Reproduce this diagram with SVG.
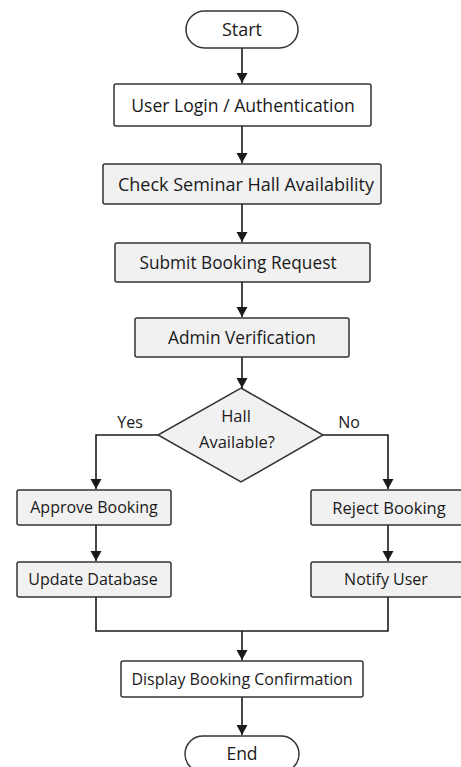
<svg xmlns="http://www.w3.org/2000/svg" width="461" height="767" viewBox="0 0 461 767">
<defs>
<marker id="ah" markerWidth="12" markerHeight="12" refX="10" refY="6" orient="auto" markerUnits="userSpaceOnUse">
<path d="M0,0.5 L10,6 L0,11.5 z" fill="#1a1a1a"/>
</marker>
<style>
.b{fill:#ffffff;stroke:#333;stroke-width:1.5}
.g{fill:#f1f1f1;stroke:#333;stroke-width:1.5}
.t{font-family:"Open Sans","Noto Sans",sans-serif;font-size:16px;fill:#1a1a1a;text-anchor:middle;dominant-baseline:central}
.c{fill:none;stroke:#1a1a1a;stroke-width:1.6;marker-end:url(#ah)}
.l{fill:none;stroke:#1a1a1a;stroke-width:1.6}
</style>
</defs>
<rect width="461" height="767" fill="#ffffff"/>
<g id="connectors">
<line class="c" x1="242" y1="47" x2="242" y2="83"/>
<line class="c" x1="242" y1="126" x2="242" y2="163"/>
<line class="c" x1="242" y1="204" x2="242" y2="242"/>
<line class="c" x1="242" y1="282" x2="242" y2="317"/>
<line class="c" x1="242" y1="357" x2="242" y2="388"/>
<polyline class="c" points="158,435 96,435 96,489"/>
<polyline class="c" points="323,435 388,435 388,489"/>
<line class="c" x1="96" y1="525" x2="96" y2="561"/>
<line class="c" x1="388" y1="525" x2="388" y2="561"/>
<polyline class="l" points="96,597 96,631 388,631 388,597"/>
<line class="c" x1="242" y1="631" x2="242" y2="660"/>
<line class="c" x1="242" y1="697" x2="242" y2="735"/>
<text class="t" x="130" y="422">Yes</text>
<text class="t" x="349" y="422">No</text>
</g>
<g id="start"><rect class="b" x="186" y="11" width="112" height="37" rx="18.5"/><text class="t" x="242" y="29" style="font-size:18px">Start</text></g>
<g id="login"><rect class="b" x="114" y="84" width="257" height="42" rx="2"/><text class="t" x="243" y="105" style="font-size:17.6px">User Login / Authentication</text></g>
<g id="check"><rect class="g" x="103" y="164" width="278" height="40" rx="2"/><text class="t" x="246" y="184" style="font-size:18px">Check Seminar Hall Availability</text></g>
<g id="submit"><rect class="g" x="115" y="243" width="255" height="39" rx="2"/><text class="t" x="238" y="262" style="font-size:17.3px">Submit Booking Request</text></g>
<g id="admin"><rect class="g" x="135" y="318" width="214" height="39" rx="2"/><text class="t" x="242" y="337" style="font-size:17.3px">Admin Verification</text></g>
<g id="decision"><polygon class="g" points="241,388 323,435 241,482 158,435"/><text class="t" x="236" y="415" style="font-size:16.5px">Hall</text><text class="t" x="237" y="441" style="font-size:16.5px">Available?</text></g>
<g id="approve"><rect class="g" x="17" y="490" width="154" height="35" rx="2"/><text class="t" x="94" y="507">Approve Booking</text></g>
<g id="reject"><rect class="g" x="311" y="490" width="156" height="35" rx="2"/><text class="t" x="389" y="507" style="font-size:16.5px">Reject Booking</text></g>
<g id="update"><rect class="g" x="17" y="562" width="154" height="35" rx="2"/><text class="t" x="93" y="579">Update Database</text></g>
<g id="notify"><rect class="g" x="311" y="562" width="156" height="35" rx="2"/><text class="t" x="386" y="579">Notify User</text></g>
<g id="display"><rect class="b" x="121" y="661" width="242" height="36" rx="2"/><text class="t" x="242" y="679">Display Booking Confirmation</text></g>
<g id="end"><rect class="b" x="185" y="736" width="114" height="36" rx="18"/><text class="t" x="242" y="753" style="font-size:17.5px">End</text></g>
</svg>
